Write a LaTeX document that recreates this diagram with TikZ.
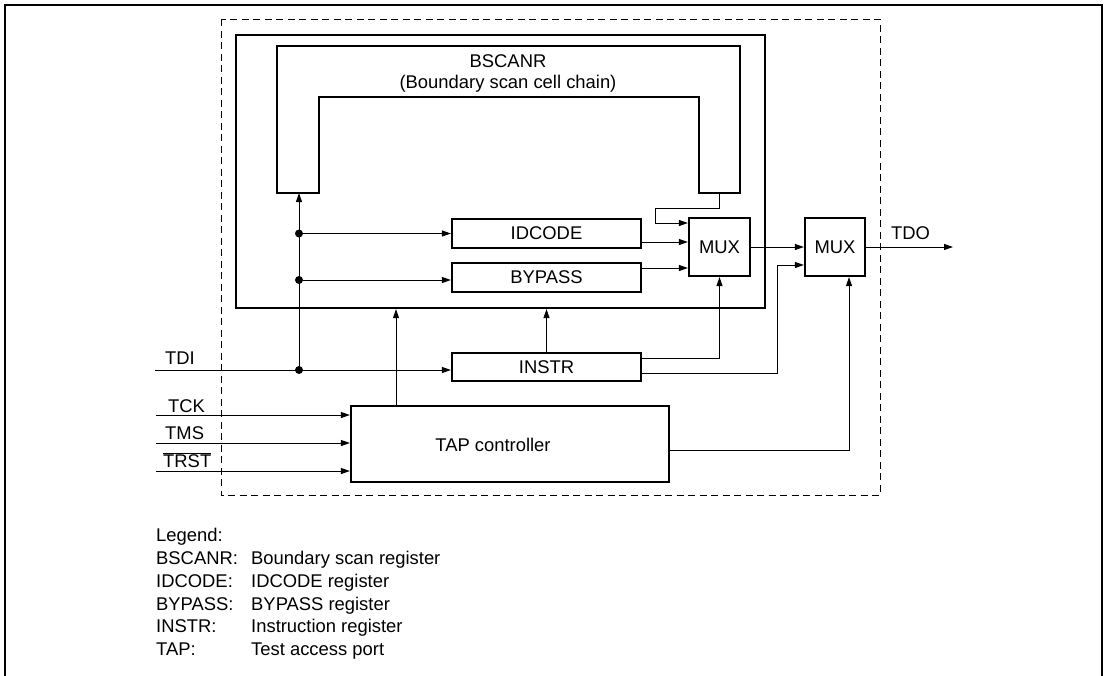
\documentclass[tikz,border=0pt]{standalone}
\usepackage{fontspec}
\setmainfont{Liberation Sans}
\usetikzlibrary{arrows.meta,calc}
\begin{document}
\begin{tikzpicture}[x=1pt,y=-1pt,
  font=\fontsize{18.4}{22}\selectfont,
  box/.style={draw,line width=2.2pt,rectangle,inner sep=0pt},
  conn/.style={line width=1pt},
  arr/.style={conn,-{Triangle[length=9pt,width=6pt]}},
  dot/.style={circle,fill,inner sep=0pt,minimum size=8pt},
  lbl/.style={anchor=base west,inner sep=0pt}]
\useasboundingbox (0,0) rectangle (1107,675);
% outer frame
\draw[line width=2.7pt] (5,676) -- (5,5) -- (1102,5) -- (1102,676);
% dashed boundary
\draw[line width=1pt,dash pattern=on 7pt off 4.5pt] (221,19) rectangle (880,495);
% BSCANR enclosure
\node[box,minimum width=529pt,minimum height=273pt] (bscan) at (500.5,171.5) {};
% boundary scan chain (U shape)
\draw[line width=2.2pt] (277,46) -- (740,46) -- (740,193) -- (699,193) -- (699,97) -- (319,97) -- (319,193) -- (277,193) -- cycle;
\node[anchor=base,inner sep=0pt] (bsname) at (508,67) {BSCANR};
\node[anchor=base,inner sep=0pt] (bsdesc) at (508,88) {(Boundary scan cell chain)};
\coordinate (lleg) at (299,193);
\coordinate (rleg) at (719,193);
% registers
\node[box,minimum width=189pt,minimum height=29pt] (idcode) at (546.5,233.5) {IDCODE};
\node[box,minimum width=189pt,minimum height=29pt] (bypass) at (546.5,277.5) {BYPASS};
\node[box,minimum width=189pt,minimum height=28pt] (instr) at (546.5,367) {INSTR};
\node[box,minimum width=61pt,minimum height=58pt] (mux1) at (719.5,247) {MUX};
\node[box,minimum width=60pt,minimum height=58pt] (mux2) at (835,247) {MUX};
\node[box,minimum width=318pt,minimum height=76pt] (tap) at (510,444) {};
\node[inner sep=0pt] (taptext) at (493,445) {TAP controller};
% inputs
\coordinate (tdiin) at (155,370);
\coordinate (tckin) at (156,415);
\coordinate (tmsin) at (156,443);
\coordinate (trstin) at (156,471);
\coordinate (tdoout) at (953,247);
\node[lbl] (tdil) at (165,364) {TDI};
\node[lbl] (tckl) at (168,412) {TCK};
\node[lbl] (tmsl) at (165,439) {TMS};
\node[lbl] (trstl) at (163,467.5) {$\overline{\mbox{TRST}}$};
\node[lbl] (tdol) at (891,239) {TDO};
% junctions
\node[dot] (j0) at (299,370) {};
\node[dot] (j1) at (299,233.5) {};
\node[dot] (j2) at (299,280) {};
% connectors
\draw[arr] (tdiin) -- (tdiin -| instr.west);
\draw[arr] (j0) -- (lleg);
\draw[arr] (j1) -- (idcode.west);
\draw[arr] (j2) -- (j2 -| bypass.west);
\draw[arr] (rleg) -- ++(0,15) -| (655,223) -- ([yshift=24pt]mux1.west);
\draw[arr] ([yshift=-8.5pt]idcode.east) -- ([yshift=-8.5pt]idcode.east -| mux1.west);
\draw[arr] ([yshift=9.5pt]bypass.east) -- ([yshift=9.5pt]bypass.east -| mux1.west);
\draw[arr] (mux1.east) -- (mux2.west);
\draw[arr] (mux2.east) -- (tdoout);
\draw[arr] ([yshift=9pt]instr.east) -| (mux1.south);
\draw[arr] ([yshift=-6pt]instr.east) -| (777,265) -- ([yshift=-18pt]mux2.west);
\draw[arr] ([yshift=-6pt]tap.east) -| ([xshift=14pt]mux2.south);
\draw[arr] (instr.north) -- (instr.north |- bscan.south);
\draw[arr] ([xshift=-114pt]tap.north) -- ([xshift=-114pt]tap.north |- bscan.south);
\draw[arr] (tckin) -- (tckin -| tap.west);
\draw[arr] (tmsin) -- (tmsin -| tap.west);
\draw[arr] (trstin) -- (trstin -| tap.west);
% legend
\node[lbl] (lg0) at (156,541.5) {Legend:};
\node[lbl] (lg1) at (156,564) {BSCANR:};
\node[lbl] (lg2) at (156,587) {IDCODE:};
\node[lbl] (lg3) at (156,610) {BYPASS:};
\node[lbl] (lg4) at (156,632) {INSTR:};
\node[lbl] (lg5) at (156,655) {TAP:};
\node[lbl] (ld1) at (251,564) {Boundary scan register};
\node[lbl] (ld2) at (251,587) {IDCODE register};
\node[lbl] (ld3) at (251,610) {BYPASS register};
\node[lbl] (ld4) at (251,632) {Instruction register};
\node[lbl] (ld5) at (251,655) {Test access port};
\end{tikzpicture}
\end{document}
